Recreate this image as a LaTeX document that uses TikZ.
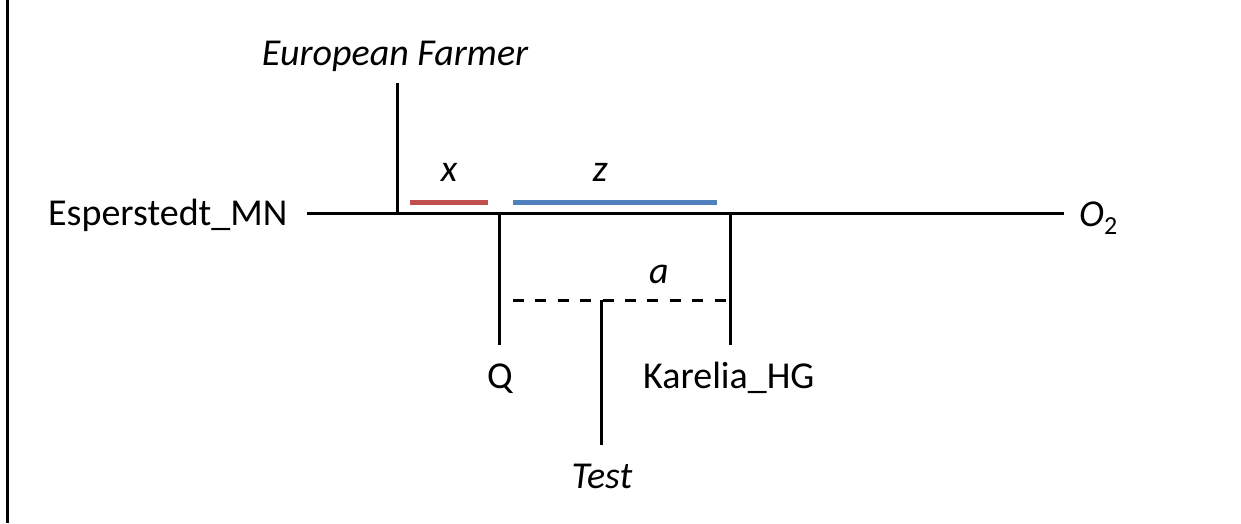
\documentclass[tikz,border=0pt]{standalone}
\usepackage{fontspec}
\setmainfont{Carlito}
\definecolor{xred}{HTML}{C0504D}
\definecolor{zblue}{HTML}{4F81BD}
\begin{document}
\begin{tikzpicture}[x=1pt,y=-1pt,
  lbl/.style={inner sep=0pt, font=\fontsize{38}{44}\selectfont},
  ilbl/.style={inner sep=0pt, font=\fontsize{38}{44}\selectfont\itshape},
  branch/.style={draw=black, line width=3pt},
  dashbranch/.style={draw=black, line width=3pt, dash pattern=on 11pt off 11.4pt},
  xbar/.style={draw=xred, line width=5pt},
  zbar/.style={draw=zblue, line width=5pt},
  frame/.style={draw=black, line width=3pt}]
\useasboundingbox (0,0) rectangle (1241,523);
% frame line on the left
\coordinate (ft) at (7.5,0);
\coordinate (fb) at (7.5,523);
\draw[frame] (ft) -- (fb);
% labels
\node[lbl, anchor=base west] (esp) at (48,225) {Esperstedt\_MN};
\node[ilbl, anchor=base] (ef) at (395,65) {European Farmer};
\node[anchor=base west, inner sep=0pt] (o2) at (1079,226)
  {\fontsize{38}{44}\selectfont\itshape O\upshape\raisebox{-0.22em}{\fontsize{26}{30}\selectfont 2}};
\node[ilbl, anchor=base] (xl) at (449,181) {x};
\node[ilbl, anchor=base] (zl) at (600,181) {z};
\node[ilbl, anchor=base] (al) at (659,283) {a};
\node[lbl, anchor=base] (q) at (500,388) {Q};
\node[lbl, anchor=base west] (kar) at (643,388) {Karelia\_HG};
\node[ilbl, anchor=base] (test) at (602,488) {Test};
% coordinates
\coordinate (l0) at (307,213);
\coordinate (r0) at (1064,213);
\coordinate (efj) at (397,213);
\coordinate (eft) at (397,83);
\coordinate (qj) at (499,213);
\coordinate (qb) at (499,345);
\coordinate (kj) at (730,213);
\coordinate (kb) at (730,345);
\coordinate (d0) at (513,300);
\coordinate (d1) at (730,300);
\coordinate (tj) at (601,300);
\coordinate (tb) at (601,445);
\coordinate (x0) at (410,202);
\coordinate (x1) at (488,202);
\coordinate (z0) at (513,202);
\coordinate (z1) at (717,202);
% tree
\draw[branch] (l0) -- (r0);
\draw[branch] (eft) -- (efj);
\draw[branch] (qj) -- (qb);
\draw[branch] (kj) -- (kb);
\draw[dashbranch] (d0) -- (d1);
\draw[branch] (tj) -- (tb);
\draw[xbar] (x0) -- (x1);
\draw[zbar] (z0) -- (z1);
\end{tikzpicture}
\end{document}
